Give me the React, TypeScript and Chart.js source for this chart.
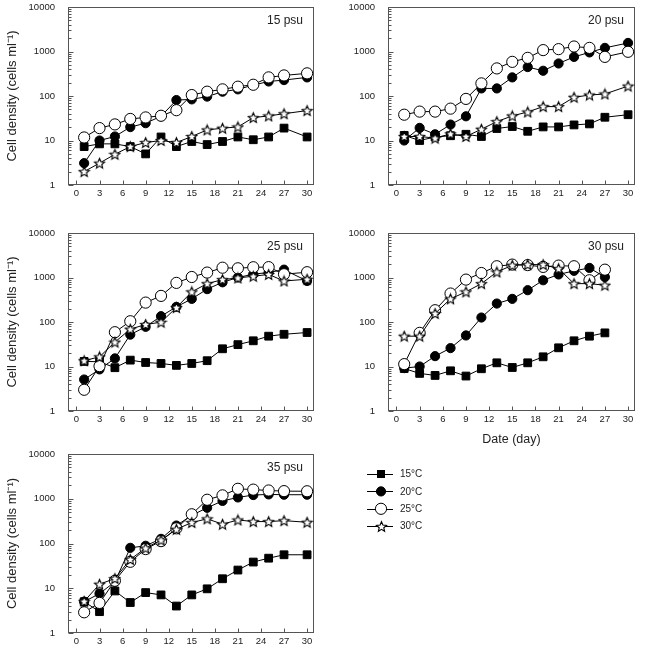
import React, { useEffect, useRef } from 'react';
import { Chart, registerables } from 'chart.js';

Chart.register(...registerables);

// ---------- data ----------
const days = [1, 3, 5, 7, 9, 11, 13, 15, 17, 19, 21, 23, 25, 27, 30];
const days30psu = [1, 3, 5, 7, 9, 11, 13, 15, 17, 19, 21, 23, 25, 27];
const temperatures = ['15°C', '20°C', '25°C', '30°C'];
const xTickValues = [0, 3, 6, 9, 12, 15, 18, 21, 24, 27, 30];
const yTickValues = [1, 10, 100, 1000, 10000];
const panelLabels = ['15 psu', '20 psu', '25 psu', '30 psu', '35 psu'];

const psu15_t15 = [7.3, 8.4, 8.4, 7.3, 5.0, 12, 7.3, 9.5, 8.1, 9.5, 12, 10.4, 12, 19, 12];
const psu15_t20 = [3.1, 10, 12.3, 20, 24.5, 35, 81, 84, 97, 125, 141, 176, 212, 228, 262];
const psu15_t25 = [11.7, 19, 23, 30.5, 33, 36, 48, 105, 125, 141, 162, 179, 262, 290, 323];
const psu15_t30 = [2.0, 3.1, 4.9, 7.3, 9.0, 10, 9.0, 12.3, 17.3, 18.9, 20.2, 32.7, 35.7, 40, 47];

const psu20_t15 = [13, 10, 12, 12.8, 13.8, 12.3, 18.6, 20.6, 16.1, 20.2, 20.2, 22.4, 23.6, 33.3, 38];
const psu20_t20 = [10, 19.2, 13.8, 22.8, 35, 148, 148, 262, 447, 369, 538, 757, 953, 1206, 1557];
const psu20_t25 = [38, 44.6, 44.6, 52, 86, 192, 417, 585, 720, 1075, 1130, 1295, 1206, 757, 985];
const psu20_t30 = [12.3, 12.3, 11.3, 14.1, 12.3, 17.9, 26.6, 35.7, 43.8, 57.8, 57.8, 93.5, 105, 111, 167];

const psu25_t15 = [13, 12.8, 9.4, 13.9, 12.3, 11.7, 10.6, 11.7, 13.5, 25, 31, 37.8, 48, 53, 58];
const psu25_t20 = [5.1, 8.6, 15.2, 52, 78, 135, 219, 331, 548, 780, 1000, 1186, 1300, 1500, 835];
const psu25_t25 = [3.0, 10.2, 59, 104, 273, 386, 757, 1026, 1290, 1660, 1610, 1700, 1710, 1186, 1315];
const psu25_t30 = [13.5, 16.5, 35.3, 69, 88, 99, 211, 476, 728, 897, 978, 1068, 1170, 835, 914];

const psu30_t15 = [9, 7.0, 6.3, 8.0, 6.1, 8.9, 12.1, 9.5, 12.1, 16.5, 26.3, 37.8, 48, 57];
const psu30_t20 = [9.2, 10, 17.1, 25.9, 49.8, 126, 260, 331, 518, 867, 1170, 1410, 1640, 1020];
const psu30_t25 = [11.3, 57, 184, 436, 897, 1260, 1790, 1950, 1900, 1730, 1850, 1790, 867, 1500];
const psu30_t30 = [48, 48, 155, 331, 476, 728, 1330, 1880, 1950, 1950, 1580, 728, 728, 670];

const psu35_t15 = [5, 3.0, 8.7, 4.8, 8.0, 7.1, 4.0, 7.1, 9.7, 16.3, 25.5, 38.5, 47, 56, 56];
const psu35_t20 = [5.0, 7.6, 13.9, 80, 89, 127, 252, 426, 628, 895, 1070, 1210, 1250, 1230, 1230];
const psu35_t25 = [2.9, 4.7, 14.7, 39, 75, 113, 218, 450, 950, 1190, 1670, 1600, 1530, 1480, 1470];
const psu35_t30 = [5.1, 12.3, 16.5, 44, 79, 119, 208, 294, 356, 270, 336, 309, 309, 324, 298];

// ---------- layout ----------
const FONT = "'Liberation Sans', Arial, Helvetica, sans-serif";
const AXIS_COLOR = '#555';
const TEXT_COLOR = '#222';

let starCache: HTMLCanvasElement | null = null;
function starImage(): HTMLCanvasElement {
  if (starCache) return starCache;
  const size = 13;
  const c = document.createElement('canvas');
  c.width = size;
  c.height = size;
  const g = c.getContext('2d')!;
  const outer = 5.3;
  const inner = 2.4;
  const cx = size / 2;
  const cy = size / 2 + 0.5;
  g.beginPath();
  for (let k = 0; k < 10; k++) {
    const r = k % 2 === 0 ? outer : inner;
    const a = -Math.PI / 2 + (k * Math.PI) / 5;
    const px = cx + r * Math.cos(a);
    const py = cy + r * Math.sin(a);
    if (k === 0) g.moveTo(px, py);
    else g.lineTo(px, py);
  }
  g.closePath();
  g.fillStyle = '#fff';
  g.fill();
  g.strokeStyle = '#000';
  g.lineWidth = 1.1;
  g.lineJoin = 'miter';
  g.stroke();
  starCache = c;
  return c;
}

function seriesStyle(i: number): any {
  if (i === 0) return { pointStyle: 'rect', pointRadius: 5.5, pointBackgroundColor: '#000', pointBorderColor: '#000' };
  if (i === 1) return { pointStyle: 'circle', pointRadius: 4.6, pointBackgroundColor: '#000', pointBorderColor: '#000' };
  if (i === 2) return { pointStyle: 'circle', pointRadius: 5.6, pointBackgroundColor: '#fff', pointBorderColor: '#000' };
  return { pointStyle: starImage(), pointRadius: 6, pointBackgroundColor: '#fff', pointBorderColor: '#000' };
}

const decorPlugin = {
  id: 'panelDecor',
  beforeDatasetsDraw(chart: any) {
    const { ctx, chartArea } = chart;
    const { left, right, top, bottom } = chartArea;
    const xs = chart.scales.x;
    const ys = chart.scales.y;
    ctx.save();
    ctx.strokeStyle = AXIS_COLOR;
    ctx.lineWidth = 1;
    const L = Math.round(left) + 0.5;
    const R = Math.round(right) - 0.5;
    const T = Math.round(top) + 0.5;
    const B = Math.round(bottom) - 0.5;
    ctx.strokeRect(L, T, R - L, B - T);
    ctx.beginPath();
    for (let d = 1; d <= 1000; d *= 10) {
      for (let m = 1; m <= 9; m++) {
        const py = Math.round(ys.getPixelForValue(d * m)) + 0.5;
        const len = m === 1 ? 5 : 3;
        ctx.moveTo(L, py);
        ctx.lineTo(L + len, py);
      }
    }
    const ptop = Math.round(ys.getPixelForValue(10000)) + 0.5;
    ctx.moveTo(L, ptop);
    ctx.lineTo(L + 5, ptop);
    for (const v of xTickValues) {
      const px = Math.round(xs.getPixelForValue(v)) + 0.5;
      ctx.moveTo(px, B);
      ctx.lineTo(px, B - 4);
    }
    ctx.stroke();
    ctx.restore();
  },
  afterDraw(chart: any, _args: any, opts: any) {
    const { ctx, chartArea } = chart;
    ctx.save();
    ctx.fillStyle = TEXT_COLOR;
    ctx.font = `12px ${FONT}`;
    ctx.textAlign = 'right';
    ctx.textBaseline = 'middle';
    ctx.fillText(opts.label, chartArea.right - 11, chartArea.top + 14);
    if (opts.legend) {
      const lx0 = 367;
      const lx1 = 393;
      const mx = 381;
      const tx = 400;
      const y0 = 44;
      const step = 17.4;
      chart.data.datasets.forEach((ds: any, i: number) => {
        const y = y0 + i * step;
        ctx.strokeStyle = '#000';
        ctx.lineWidth = 1;
        ctx.beginPath();
        ctx.moveTo(lx0, Math.round(y) + 0.5);
        ctx.lineTo(lx1, Math.round(y) + 0.5);
        ctx.stroke();
        const st = seriesStyle(i);
        if (st.pointStyle === 'rect') {
          ctx.fillStyle = '#000';
          ctx.fillRect(mx - 4, y - 4, 8, 8);
        } else if (st.pointStyle === 'circle') {
          ctx.beginPath();
          ctx.arc(mx, y, st.pointRadius, 0, Math.PI * 2);
          ctx.fillStyle = st.pointBackgroundColor;
          ctx.fill();
          ctx.strokeStyle = '#000';
          ctx.stroke();
        } else {
          const img = st.pointStyle as HTMLCanvasElement;
          ctx.drawImage(img, Math.round(mx - img.width / 2), Math.round(y - img.height / 2));
        }
        ctx.fillStyle = TEXT_COLOR;
        ctx.font = `10px ${FONT}`;
        ctx.textAlign = 'left';
        ctx.textBaseline = 'middle';
        ctx.fillText(ds.label, tx, y + 0.5);
      });
    }
    ctx.restore();
  },
};

type PanelSpec = {
  label: string;
  x: number[];
  series: number[][];
  left: number;
  top: number;
  w: number;
  h: number;
  padTop: number;
  padRight: number;
  xh: number;
  yTitle: boolean;
  xTitle: boolean;
  legend: boolean;
};

const panels: PanelSpec[] = [
  { label: panelLabels[0], x: days, series: [psu15_t15, psu15_t20, psu15_t25, psu15_t30], left: 0, top: 0, w: 323, h: 210, padTop: 6, padRight: 9, xh: 25, yTitle: true, xTitle: false, legend: false },
  { label: panelLabels[1], x: days, series: [psu20_t15, psu20_t20, psu20_t25, psu20_t30], left: 320, top: 0, w: 327, h: 210, padTop: 6, padRight: 12, xh: 25, yTitle: false, xTitle: false, legend: false },
  { label: panelLabels[2], x: days, series: [psu25_t15, psu25_t20, psu25_t25, psu25_t30], left: 0, top: 210, w: 323, h: 225, padTop: 23, padRight: 9, xh: 24, yTitle: true, xTitle: false, legend: false },
  { label: panelLabels[3], x: days30psu, series: [psu30_t15, psu30_t20, psu30_t25, psu30_t30], left: 320, top: 210, w: 327, h: 240, padTop: 23, padRight: 12, xh: 39, yTitle: false, xTitle: true, legend: false },
  { label: panelLabels[4], x: days, series: [psu35_t15, psu35_t20, psu35_t25, psu35_t30], left: 0, top: 430, w: 647, h: 231, padTop: 24, padRight: 333, xh: 28, yTitle: true, xTitle: false, legend: true },
];

function Panel({ spec }: { spec: PanelSpec }) {
  const ref = useRef<HTMLCanvasElement>(null);
  useEffect(() => {
    const datasets = spec.series.map((vals, i) => ({
      label: temperatures[i],
      data: spec.x.map((d, j) => ({ x: d, y: vals[j] })),
      borderColor: '#000',
      borderWidth: 1,
      pointBorderWidth: 1,
      tension: 0,
      fill: false,
      order: 4 - i,
      ...seriesStyle(i),
      pointHoverRadius: seriesStyle(i).pointRadius,
    }));
    const chart = new Chart(ref.current!, {
      type: 'line',
      data: { datasets },
      plugins: [decorPlugin],
      options: {
        animation: false,
        responsive: false,
        devicePixelRatio: 1,
        events: [],
        layout: { padding: { left: 0, top: spec.padTop, right: spec.padRight, bottom: 0 } },
        plugins: {
          legend: { display: false },
          tooltip: { enabled: false },
          panelDecor: { label: spec.label, legend: spec.legend },
        } as any,
        scales: {
          x: {
            type: 'linear',
            min: -1.1,
            max: 30.9,
            afterBuildTicks: (s: any) => {
              s.ticks = xTickValues.map((v) => ({ value: v }));
            },
            afterFit: (s: any) => {
              s.height = spec.xh;
            },
            grid: { display: false, drawTicks: false },
            border: { display: false },
            ticks: {
              autoSkip: false,
              maxRotation: 0,
              padding: 3,
              color: TEXT_COLOR,
              font: { family: FONT, size: 9.5 },
              callback: (v: any) => String(v),
            },
            title: {
              display: spec.xTitle,
              text: 'Date (day)',
              color: TEXT_COLOR,
              font: { family: FONT, size: 12.5 },
              padding: { top: 0, bottom: 3 },
            },
          },
          y: {
            type: 'logarithmic',
            min: 1,
            max: 10000,
            afterBuildTicks: (s: any) => {
              s.ticks = yTickValues.map((v) => ({ value: v }));
            },
            afterFit: (s: any) => {
              s.width = 68;
            },
            grid: {
              display: true,
              drawOnChartArea: false,
              drawTicks: true,
              tickLength: 13,
              color: 'rgba(0,0,0,0)',
            },
            border: { display: false },
            ticks: {
              padding: 0,
              color: TEXT_COLOR,
              font: { family: FONT, size: 9.5 },
              callback: (v: any) => String(v),
            },
            title: {
              display: spec.yTitle,
              text: 'Cell density (cells ml⁻¹)',
              color: TEXT_COLOR,
              font: { family: FONT, size: 13 },
              padding: { top: 5, bottom: 0 },
            },
          },
        },
      } as any,
    });
    return () => chart.destroy();
  }, []);
  return (
    <canvas
      ref={ref}
      width={spec.w}
      height={spec.h}
      style={{ position: 'absolute', left: spec.left, top: spec.top, width: spec.w, height: spec.h }}
    />
  );
}

export default function App() {
  return (
    <div style={{ position: 'absolute', left: 0, top: 0, width: 647, height: 661, background: '#fff' }}>
      {panels.map((p) => (
        <Panel key={p.label} spec={p} />
      ))}
    </div>
  );
}
